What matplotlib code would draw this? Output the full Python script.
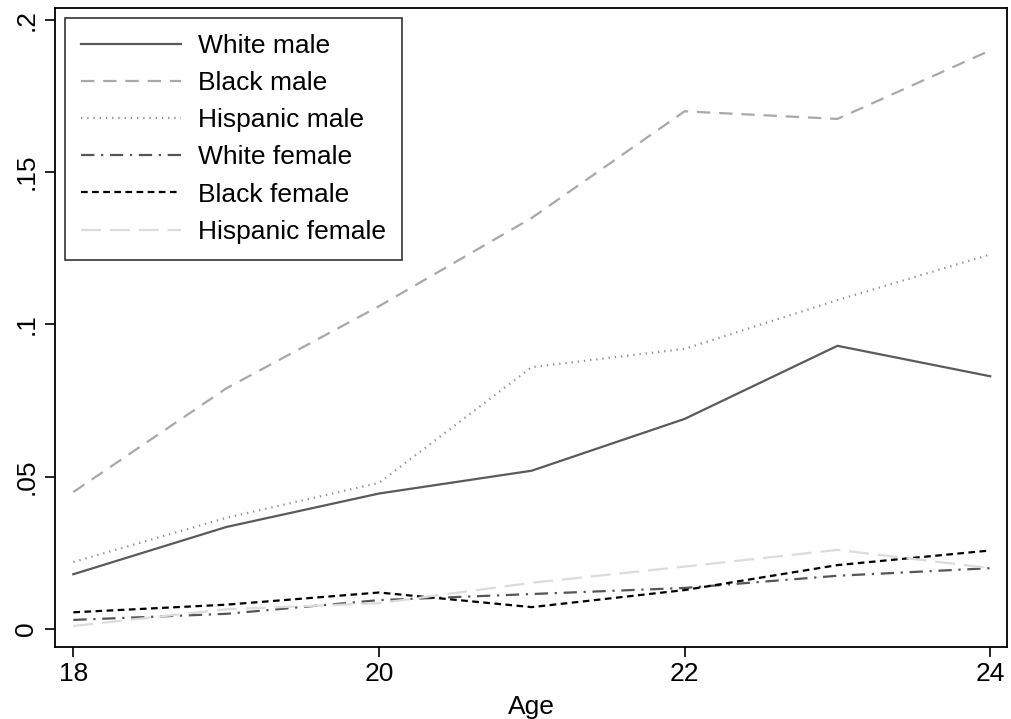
import matplotlib
matplotlib.use("Agg")
import matplotlib.pyplot as plt

plt.rcParams['font.family'] = ['Liberation Sans', 'DejaVu Sans']

ages = [18, 19, 20, 21, 22, 23, 24]
white_male = [0.018, 0.0335, 0.0445, 0.052, 0.069, 0.093, 0.083]
black_male = [0.045, 0.079, 0.106, 0.135, 0.170, 0.1675, 0.190]
hispanic_male = [0.022, 0.0365, 0.048, 0.086, 0.092, 0.108, 0.123]
white_female = [0.003, 0.005, 0.0095, 0.0115, 0.0135, 0.0175, 0.020]
black_female = [0.0055, 0.008, 0.012, 0.0072, 0.0128, 0.021, 0.0258]
hispanic_female = [0.001, 0.0065, 0.0085, 0.0152, 0.0205, 0.026, 0.020]

series = [
    ("White male", white_male, "#5a5a5a", "-"),
    ("Black male", black_male, "#a8a8a8", (0, (6, 4))),
    ("Hispanic male", hispanic_male, "#909090", (0, (0.6, 2.2))),
    ("White female", white_female, "#555555", (0, (6, 3, 1, 3))),
    ("Black female", black_female, "#000000", (0, (3, 2))),
    ("Hispanic female", hispanic_female, "#dcdcdc", (0, (9, 4))),
]

fig = plt.figure(figsize=(10.11, 7.19), dpi=100)
ax = fig.add_axes([0.0544, 0.1001, 0.9417, 0.8887])

for name, vals, col, ls in series:
    ax.plot(ages, vals, color=col, linestyle=ls, linewidth=1.6, label=name)

ax.set_xlim(17.88, 24.11)
ax.set_ylim(-0.0059, 0.2039)
ax.set_xticks([18, 20, 22, 24])
ax.set_yticks([0, 0.05, 0.1, 0.15, 0.2])
ax.set_yticklabels(["0", ".05", ".1", ".15", ".2"], rotation=90, va="center")
ax.tick_params(direction="out", length=7, width=1.2, labelsize=19)
ax.tick_params(axis="x", pad=4)
ax.tick_params(axis="y", pad=5)
for s in ax.spines.values():
    s.set_linewidth(1.3)
ax.set_xlabel("Age", fontsize=19, labelpad=6)

leg = ax.legend(loc="upper left", fontsize=19, frameon=True, fancybox=False,
                edgecolor="black", handlelength=3.8, handletextpad=0.65,
                borderaxespad=0.38, labelspacing=0.5, borderpad=0.6)
leg.get_frame().set_linewidth(1.2)

fig.savefig("out.png", dpi=100)
